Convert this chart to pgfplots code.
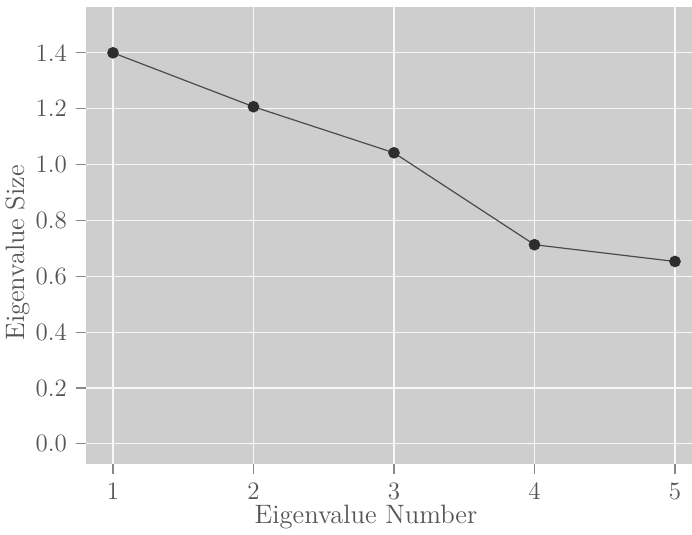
\documentclass[border=0pt]{standalone}
\usepackage{pgfplots}
\pgfplotsset{compat=1.18}
\definecolor{panel}{RGB}{206,206,206}
\definecolor{txt}{RGB}{85,85,85}
\definecolor{ln}{RGB}{75,75,75}
\definecolor{pt}{RGB}{45,45,45}
\begin{document}
\begin{tikzpicture}
\begin{axis}[
  at={(0,0)}, anchor=south west,
  scale only axis,
  width=303pt, height=228.5pt,
  xmin=0.808, xmax=5.121,
  ymin=-0.072, ymax=1.564,
  xtick={1,2,3,4,5},
  ytick={0,0.2,0.4,0.6,0.8,1.0,1.2,1.4},
  yticklabels={0.0,0.2,0.4,0.6,0.8,1.0,1.2,1.4},
  xticklabels={1,2,3,4,5},
  axis background/.style={fill=panel},
  axis line style={draw=none},
  grid=major,
  major grid style={draw=white!85!panel, line width=0.55pt},
  tick align=outside,
  xtick pos=bottom, ytick pos=left,
  major tick length=5pt,
  tick style={draw=txt!70, line width=0.6pt},
  ticklabel style={font=\fontsize{12.5}{14}\selectfont, text=txt},
  xticklabel style={yshift=-1pt},
  yticklabel style={xshift=-1pt},
  label style={font=\fontsize{13.3}{15}\selectfont, text=txt},
  xlabel={Eigenvalue Number},
  ylabel={Eigenvalue Size},
  xlabel style={at={(axis description cs:0.462,-0.1300)}, anchor=base},
  ylabel style={at={(axis description cs:-0.1023,0.462)}, anchor=base, rotate=0},
]
\addplot[color=ln, line width=0.6pt, mark=*, mark size=2.6pt, mark options={fill=pt, draw=pt}]
  coordinates {(1,1.400) (2,1.207) (3,1.042) (4,0.713) (5,0.653)};
\end{axis}
\pgfresetboundingbox
\path (-43pt,-35.5pt) rectangle (303pt,232pt);
\end{tikzpicture}
\end{document}
